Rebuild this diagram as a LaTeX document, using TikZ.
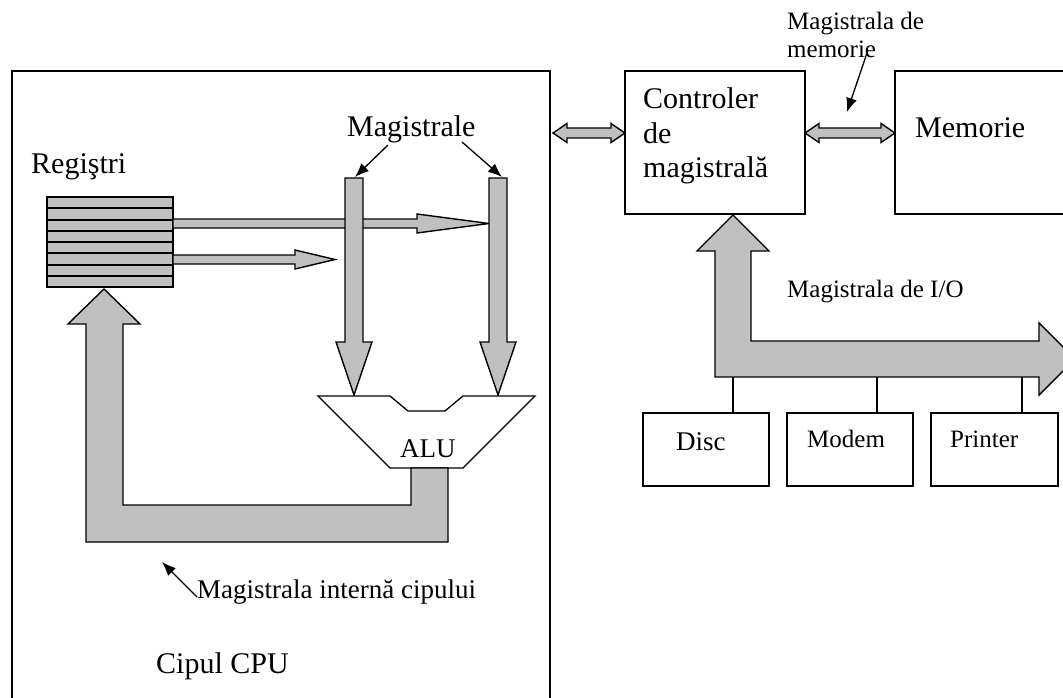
\documentclass[tikz,border=0pt]{standalone}
\usepackage{fontspec}
\setmainfont{Liberation Serif}
\usetikzlibrary{arrows.meta,calc}

\definecolor{busgray}{HTML}{C0C0C0}

\tikzset{
  box/.style={draw, line width=1.3pt, inner sep=0pt, outer sep=0pt, anchor=north west},
  bus/.style={draw, fill=busgray, line width=1.4pt, line join=miter},
  pointer/.style={line width=1.3pt, -{Latex[length=14pt,width=11pt]}},
  bigtxt/.style={font=\fontsize{30}{35}\selectfont, inner sep=0pt, anchor=base west},
  midtxt/.style={font=\fontsize{27}{32}\selectfont, inner sep=0pt, anchor=base west},
  smalltxt/.style={font=\fontsize{25}{28}\selectfont, inner sep=0pt, anchor=base west},
}

% horizontal two-headed bus arrow: left x, right x, centre y
\newcommand{\hbiarrow}[3]{%
  \filldraw[bus] (#1,#3) -- (#1+14,#3-9.5) -- (#1+14,#3-5) -- (#2-14,#3-5)
    -- (#2-14,#3-9.5) -- (#2,#3) -- (#2-14,#3+9.5) -- (#2-14,#3+5)
    -- (#1+14,#3+5) -- (#1+14,#3+9.5) -- cycle;}

\begin{document}
\begin{tikzpicture}[x=1pt,y=-1pt]
\clip (0,0) rectangle (1063,698);

% main blocks
\node[box, minimum width=538pt, minimum height=660pt] (cpu) at (12,71) {};
\node[box, minimum width=180pt, minimum height=143pt] (ctl) at (625,71) {};
\node[box, minimum width=200pt, minimum height=143pt] (mem) at (895,71) {};

% multi-line texts are placed by the baseline of their last line
\node[bigtxt, align=left] (ctltxt) at (643,178) {Controler\\de\\magistrală};
\node[bigtxt] (memtxt) at (915,138) {Memorie};

% buses between CPU, controller and memory
\hbiarrow{553}{625}{133}
\hbiarrow{805}{895}{133}

\node[smalltxt, align=left] (memlbl) at (787,58) {Magistrala de\\memorie};
\coordinate (memptr) at (868,50);
\coordinate (memtip) at (847,112);
\draw[pointer] (memptr) -- (memtip);

% I/O bus
\filldraw[bus] (733,215) -- (769,251) -- (751,251) -- (751,341) -- (1039,341)
  -- (1039,323) -- (1075,359) -- (1039,395) -- (1039,377) -- (715,377)
  -- (715,251) -- (697,251) -- cycle;
\node[smalltxt] (iolbl) at (787,297) {Magistrala de I/O};

% peripheral devices
\node[box, minimum width=126pt, minimum height=73pt] (disc) at (643,413) {};
\node[box, minimum width=126pt, minimum height=73pt] (modem) at (787,413) {};
\node[box, minimum width=127pt, minimum height=73pt] (printer) at (931,413) {};
\node[midtxt] at (676,450) {Disc};
\node[smalltxt] at (807,447) {Modem};
\node[smalltxt] at (950,447) {Printer};
\draw[line width=1.3pt] (733,413) -- (733,377);
\draw[line width=1.3pt] (877,413) -- (877,377);
\draw[line width=1.3pt] (1022,413) -- (1022,377);

% register file: eight stacked registers
\node[bigtxt] (reglbl) at (31,173) {Regiştri};
\node[box, fill=busgray, minimum width=126pt, minimum height=90pt] (regs) at (47,197) {};
\foreach \yy in {208,220,231,242,253,265,276}
  \draw[line width=1.3pt] (47,\yy) -- (173,\yy);

% register outputs
\filldraw[bus] (173,219) -- (417,219) -- (417,214) -- (489,223.5) -- (417,233)
  -- (417,228) -- (173,228) -- cycle;
\filldraw[bus] (173,255) -- (295,255) -- (295,250) -- (335,259.5) -- (295,269)
  -- (295,264) -- (173,264) -- cycle;

% internal buses feeding the ALU
\filldraw[bus] (345,178) -- (363,178) -- (363,342) -- (372,342) -- (354,395)
  -- (336,342) -- (345,342) -- cycle;
\filldraw[bus] (489,178) -- (507,178) -- (507,342) -- (516,342) -- (498,395)
  -- (480,342) -- (489,342) -- cycle;
\node[bigtxt] (buslbl) at (347,137) {Magistrale};
\coordinate (busA) at (388,145);
\coordinate (busB) at (462,142);
\draw[pointer] (busA) -- (355,177);
\draw[pointer] (busB) -- (502,177);

% ALU
\filldraw[line width=1.3pt, fill=white, line join=miter]
  (318,396) -- (390,396) -- (408,411) -- (445,411) -- (463,396) -- (535,396)
  -- (463,468) -- (390,468) -- cycle;
\node[midtxt] (alu) at (400,457) {ALU};

% ALU result back to the registers
\filldraw[bus] (411,468) -- (411,505) -- (123,505) -- (123,324) -- (140,324)
  -- (104,289) -- (68,324) -- (86,324) -- (86,542) -- (448,542) -- (448,468) -- cycle;

\node[midtxt] (intlbl) at (197,598) {Magistrala internă cipului};
\draw[pointer] (intlbl.base west) ++(0,-1) -- (162,562);

\node[bigtxt] (cpulbl) at (156,673) {Cipul CPU};
\end{tikzpicture}
\end{document}
